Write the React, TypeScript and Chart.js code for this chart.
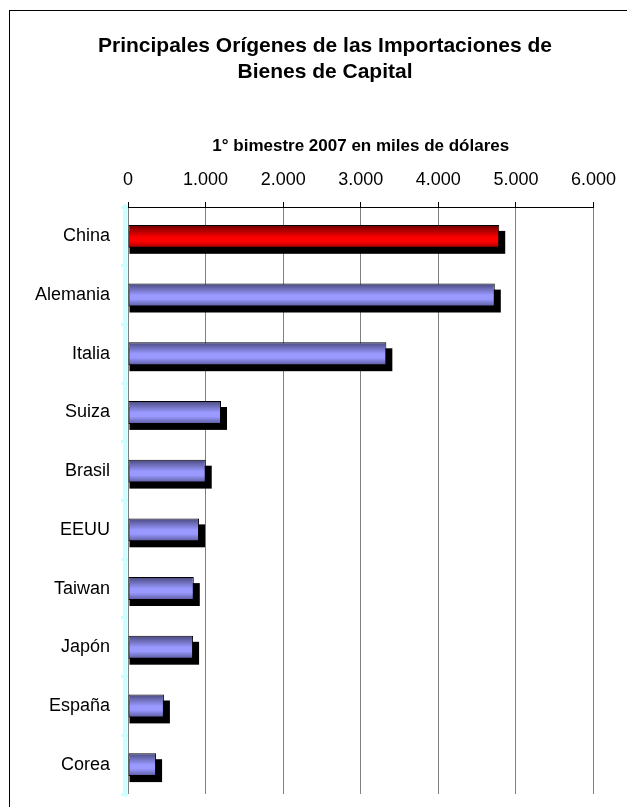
import React, { useEffect, useRef } from 'react';
import { Chart, registerables } from 'chart.js';

Chart.register(...registerables);

const titleLines = ['Principales Orígenes de las Importaciones de', 'Bienes de Capital'];
const axisTitle = '1° bimestre 2007 en miles de dólares';
const categories = ['China', 'Alemania', 'Italia', 'Suiza', 'Brasil', 'EEUU', 'Taiwan', 'Japón', 'España', 'Corea'];
const values = [4785, 4728, 3330, 1199, 1002, 916, 848, 839, 463, 362];
const highlighted = [true, false, false, false, false, false, false, false, false, false];
const xTickValues = [0, 1000, 2000, 3000, 4000, 5000, 6000];

const FONT = '"Liberation Sans", Arial, Helvetica, sans-serif';
const BAR_PCT = 0.39;
const AXIS_CYAN = '#ccffff';

const fmt = (v: number) => String(v).replace(/\B(?=(\d{3})+(?!\d))/g, '.');

const redStops: [number, string][] = [
  [0, '#6a0000'],
  [0.55, '#ff0000'],
  [0.72, '#ff0000'],
  [1, '#a00000'],
];
const blueStops: [number, string][] = [
  [0, '#48487e'],
  [0.5, '#9999ff'],
  [0.68, '#9999ff'],
  [1, '#5a5a9c'],
];

const shadowPlugin = {
  id: 'barShadow',
  beforeDatasetsDraw(chart: any) {
    const ctx = chart.ctx;
    const area = chart.chartArea;
    ctx.save();
    ctx.strokeStyle = AXIS_CYAN;
    ctx.lineWidth = 4;
    ctx.lineCap = 'round';
    ctx.beginPath();
    ctx.moveTo(area.left - 3, area.top - 1);
    ctx.lineTo(area.left - 3, area.bottom + 1);
    ctx.stroke();
    ctx.fillStyle = '#000';
    chart.getSortedVisibleDatasetMetas().forEach((meta: any) => {
      meta.data.forEach((el: any) => {
        const p = el.getProps(['x', 'y', 'base', 'height'], true);
        const top = p.y - p.height / 2;
        ctx.fillRect(p.base + 1, top + 6, p.x - p.base + 5, p.height);
      });
    });
    ctx.restore();
  },
};

const framePlugin = {
  id: 'frame',
  beforeDraw(chart: any) {
    const ctx = chart.ctx;
    ctx.save();
    ctx.strokeStyle = '#000';
    ctx.lineWidth = 1;
    ctx.strokeRect(9.5, 10.5, 2000, 2000);
    ctx.restore();
  },
};

export default function App() {
  const ref = useRef<HTMLCanvasElement | null>(null);

  useEffect(() => {
    if (!ref.current) return;
    const chart = new Chart(ref.current, {
      type: 'bar',
      data: {
        labels: categories,
        datasets: [
          {
            data: values,
            backgroundColor: (c: any) => {
              const hi = highlighted[c.dataIndex];
              const stops = hi ? redStops : blueStops;
              const chart = c.chart;
              const ys = chart.scales && chart.scales.y;
              if (c.dataIndex === undefined || !ys || !chart.chartArea) return stops[1][1];
              const center = ys.getPixelForValue(c.dataIndex);
              const half = (ys.height / categories.length) * BAR_PCT / 2;
              const g = chart.ctx.createLinearGradient(0, center - half, 0, center + half);
              stops.forEach(([o, col]) => g.addColorStop(o, col));
              return g;
            },
            borderColor: '#000',
            borderWidth: 1,
            borderSkipped: false,
            categoryPercentage: 1,
            barPercentage: BAR_PCT,
          },
        ],
      },
      options: {
        indexAxis: 'y',
        responsive: false,
        animation: false,
        layout: { padding: { left: 9, top: 120, right: 32, bottom: 13 } },
        plugins: {
          legend: { display: false },
          title: { display: false },
          tooltip: { enabled: false },
        },
        scales: {
          x: {
            position: 'top',
            min: 0,
            max: 6000,
            afterBuildTicks: (s: any) => {
              s.ticks = xTickValues.map((v) => ({ value: v }));
            },
            afterFit: (s: any) => {
              s.height = 87;
            },
            ticks: {
              color: '#000',
              padding: 11,
              font: { family: FONT, size: 18 },
              callback: (v: any) => fmt(Number(v)),
            },
            grid: {
              color: '#808080',
              lineWidth: 1,
              drawTicks: true,
              tickLength: 5,
              tickColor: '#000',
            },
            border: { display: true, color: '#000', width: 1 },
            title: {
              display: true,
              text: axisTitle,
              color: '#000',
              font: { family: FONT, size: 17, weight: 'bold' },
              padding: { top: 16, bottom: 0 },
            },
          },
          y: {
            afterFit: (s: any) => {
              s.width = 119;
              s.paddingTop = 0;
              s.paddingBottom = 0;
            },
            ticks: {
              color: '#000',
              padding: 11,
              font: { family: FONT, size: 18 },
            },
            grid: {
              display: true,
              drawOnChartArea: false,
              drawTicks: true,
              tickLength: 7,
              tickWidth: 3,
              color: AXIS_CYAN,
            },
            border: { display: false },
          },
        },
      },
      plugins: [framePlugin, shadowPlugin],
    } as any);
    return () => chart.destroy();
  }, []);

  return (
    <div style={{ position: 'absolute', left: 0, top: 0, width: 627, height: 807, overflow: 'hidden' }}>
      <canvas ref={ref} width={627} height={807} style={{ display: 'block' }} />
      <div
        style={{
          position: 'absolute',
          left: 0,
          top: 32,
          width: 650,
          textAlign: 'center',
          fontFamily: FONT,
          fontWeight: 'bold',
          fontSize: 21,
          lineHeight: '26px',
          color: '#000',
          pointerEvents: 'none',
        }}
      >
        {titleLines[0]}
        <br />
        {titleLines[1]}
      </div>
    </div>
  );
}
